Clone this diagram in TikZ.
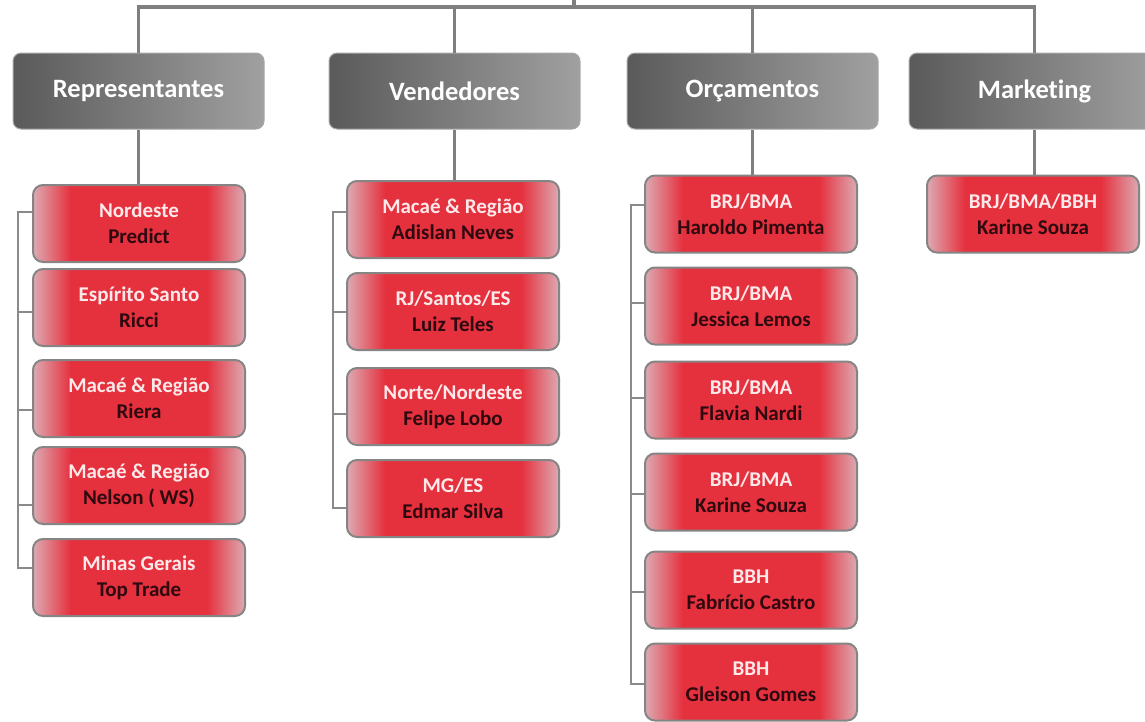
\documentclass[tikz,border=0pt]{standalone}
\usepackage{fontspec}
\setmainfont{Carlito}[Ligatures=NoCommon]
\definecolor{connc}{HTML}{7F7F7F}
\definecolor{brkc}{HTML}{8A8A8A}
\definecolor{hdrdark}{HTML}{5A5A5A}
\definecolor{hdrlight}{HTML}{A0A0A0}
\definecolor{hdrborder}{HTML}{A8A8A8}
\definecolor{kidborder}{HTML}{858585}
\definecolor{edgepink}{HTML}{DDAAB2}
\definecolor{boxred}{HTML}{E5303D}
\definecolor{toptext}{HTML}{FDE8EA}
\definecolor{bottext}{HTML}{2E0A10}
\pgfdeclarehorizontalshading{redglow}{100bp}{color(0bp)=(edgepink); color(25bp)=(edgepink); color(34bp)=(boxred); color(66bp)=(boxred); color(75bp)=(edgepink); color(100bp)=(edgepink)}
\newcommand\kidtext[2]{\textcolor{toptext}{#1}\\\textcolor{bottext}{#2}}
\begin{document}
\begin{tikzpicture}[x=1pt,y=-1pt,
  hdr/.style={rectangle, rounded corners=8pt, minimum width=251pt, minimum height=76pt, inner sep=0pt,
    draw=hdrborder, line width=1pt, left color=hdrdark, right color=hdrlight, text=white,
    font=\bfseries\fontsize{26.5}{30}\selectfont},
  kid/.style={rectangle, rounded corners=10pt, minimum width=212pt, minimum height=77pt, inner sep=0pt,
    draw=kidborder, line width=2pt, shading=redglow, align=center,
    font=\bfseries\fontsize{21}{26}\selectfont},
  conn/.style={draw=connc, line width=3.5pt},
  brk/.style={draw=brkc, line width=1.4pt}]
\useasboundingbox (0,0) rectangle (1145,721);
\clip (0,0) rectangle (1145,721);
\fill[white] (0,0) rectangle (1145,721);

% headers
\node[hdr] (h1) at (138.5,91) {Representantes};
\node[hdr] (h2) at (454.5,91) {Vendedores};
\node[hdr] (h3) at (752.5,91) {Orçamentos};
\node[hdr] (h4) at (1034.5,91) {Marketing};

% Representantes
\node[kid] (r1) at (139,223.5) {\kidtext{Nordeste}{Predict}};
\node[kid] (r2) at (139,307.5) {\kidtext{Espírito Santo}{Ricci}};
\node[kid] (r3) at (139,398.5) {\kidtext{Macaé \& Região}{Riera}};
\node[kid] (r4) at (139,485.5) {\kidtext{Macaé \& Região}{Nelson ( WS)}};
\node[kid] (r5) at (139,577.5) {\kidtext{Minas Gerais}{Top Trade}};

% Vendedores
\node[kid] (v1) at (453,219.5) {\kidtext{Macaé \& Região}{Adislan Neves}};
\node[kid] (v2) at (453,311.5) {\kidtext{RJ/Santos/ES}{Luiz Teles}};
\node[kid] (v3) at (453,406.5) {\kidtext{Norte/Nordeste}{Felipe Lobo}};
\node[kid] (v4) at (453,498.5) {\kidtext{MG/ES}{Edmar Silva}};

% Orcamentos
\node[kid] (o1) at (751,214) {\kidtext{BRJ/BMA}{Haroldo Pimenta}};
\node[kid] (o2) at (751,306) {\kidtext{BRJ/BMA}{Jessica Lemos}};
\node[kid] (o3) at (751,400) {\kidtext{BRJ/BMA}{Flavia Nardi}};
\node[kid] (o4) at (751,492) {\kidtext{BRJ/BMA}{Karine Souza}};
\node[kid] (o5) at (751,590) {\kidtext{BBH}{Fabrício Castro}};
\node[kid] (o6) at (751,682) {\kidtext{BBH}{Gleison Gomes}};

% Marketing
\node[kid] (m1) at (1033,214) {\kidtext{BRJ/BMA/BBH}{Karine Souza}};

% top bus
\coordinate (bus) at (574,7);
\coordinate (root) at (574,-5);
\draw[conn] (root) -- (bus);
\draw[conn] (h1.north) |- (bus) -| (h4.north);
\draw[conn] (h2.north) -- (h2.north |- bus);
\draw[conn] (h3.north) -- (h3.north |- bus);

% header to first child
\draw[conn] (h1.south) -- (h1.south |- r1.north);
\draw[conn] (h2.south) -- (h2.south |- v1.north);
\draw[conn] (h3.south) -- (h3.south |- o1.north);
\draw[conn] (h4.south) -- (h4.south |- m1.north);

% brackets Representantes
\draw[brk] ([shift={(0,-11.5)}]r1.west) -- ++(-14,0) |- ([shift={(0,-9.5)}]r5.west);
\draw[brk] ([shift={(0,4.5)}]r2.west) -- ++(-14,0);
\draw[brk] ([shift={(0,11.5)}]r3.west) -- ++(-14,0);
\draw[brk] ([shift={(0,19.5)}]r4.west) -- ++(-14,0);

% brackets Vendedores
\draw[brk] ([shift={(0,-7.5)}]v1.west) -- ++(-13,0) |- ([shift={(0,9.5)}]v4.west);
\draw[brk] ([shift={(0,0.5)}]v2.west) -- ++(-13,0);
\draw[brk] ([shift={(0,7.5)}]v3.west) -- ++(-13,0);

% brackets Orcamentos
\draw[brk] ([shift={(0,-9)}]o1.west) -- ++(-13,0) |- ([shift={(0,2)}]o6.west);
\draw[brk] ([shift={(0,-3)}]o2.west) -- ++(-13,0);
\draw[brk] ([shift={(0,-2)}]o3.west) -- ++(-13,0);
\draw[brk] ([shift={(0,2)}]o4.west) -- ++(-13,0);
\draw[brk] ([shift={(0,2)}]o5.west) -- ++(-13,0);
\end{tikzpicture}
\end{document}
